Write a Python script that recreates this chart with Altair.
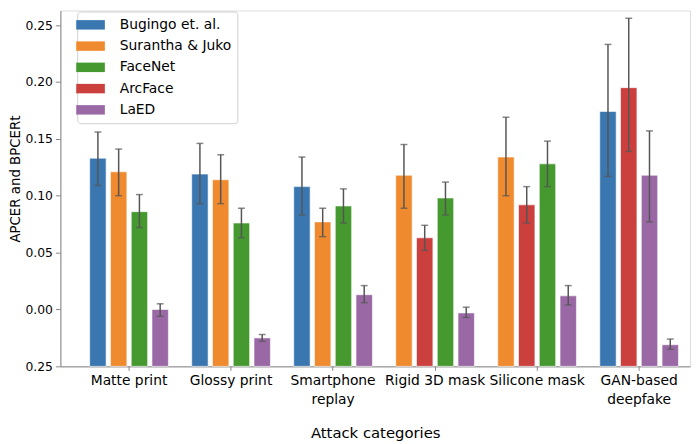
import altair as alt
import pandas as pd

categories = ["Matte print", "Glossy print", "Smartphone replay",
              "Rigid 3D mask", "Silicone mask", "GAN-based deepfake"]
series_order = ["Bugingo et. al.", "Surantha & Juko", "FaceNet", "ArcFace", "LaED"]
series_colors = ["#3a77b0", "#f08a2e", "#45992f", "#cb3f3d", "#9a69a5"]

bar_category = (["Matte print"] * 4 + ["Glossy print"] * 4 + ["Smartphone replay"] * 4 +
                ["Rigid 3D mask"] * 4 + ["Silicone mask"] * 4 + ["GAN-based deepfake"] * 4)
bar_slot = [0, 1, 2, 3] * 6
bar_series = [
    "Bugingo et. al.", "Surantha & Juko", "FaceNet", "LaED",
    "Bugingo et. al.", "Surantha & Juko", "FaceNet", "LaED",
    "Bugingo et. al.", "Surantha & Juko", "FaceNet", "LaED",
    "Surantha & Juko", "ArcFace", "FaceNet", "LaED",
    "Surantha & Juko", "ArcFace", "FaceNet", "LaED",
    "Bugingo et. al.", "ArcFace", "LaED", "LaED",
]
bar_value = [0.133, 0.121, 0.086, 0.000,
             0.119, 0.114, 0.076, -0.025,
             0.108, 0.077, 0.091, 0.013,
             0.118, 0.063, 0.098, -0.003,
             0.134, 0.092, 0.128, 0.012,
             0.174, 0.195, 0.118, -0.031]
err_low = [0.109, 0.100, 0.072, -0.006,
           0.093, 0.093, 0.063, -0.028,
           0.083, 0.064, 0.076, 0.006,
           0.089, 0.052, 0.083, -0.007,
           0.100, 0.076, 0.108, 0.004,
           0.117, 0.139, 0.077, -0.035]
err_high = [0.156, 0.141, 0.101, 0.005,
            0.146, 0.136, 0.089, -0.022,
            0.134, 0.089, 0.106, 0.021,
            0.145, 0.074, 0.112, 0.002,
            0.169, 0.108, 0.148, 0.021,
            0.233, 0.256, 0.157, -0.026]
y_tick_values = [-0.05, 0.0, 0.05, 0.10, 0.15, 0.20, 0.25]
y_bottom = -0.05
y_top = 0.2628

df = pd.DataFrame({
    "category": bar_category,
    "slot": bar_slot,
    "series": bar_series,
    "value": bar_value,
    "lo": err_low,
    "hi": err_high,
    "base": [y_bottom] * len(bar_value),
})

FONT = "DejaVu Sans"

x_enc = alt.X("category:N", sort=categories,
              scale=alt.Scale(paddingInner=0.186, paddingOuter=0.179, align=0.743),
              axis=alt.Axis(title="Attack categories", labelAngle=0, labelFontSize=14,
                            labelLineHeight=20, tickSize=4, labelPadding=3,
                            titleFontSize=15, titleFontWeight="normal", titlePadding=19,
                            labelExpr="datum.label == 'Smartphone replay' ? ['Smartphone', 'replay'] : "
                                      "datum.label == 'GAN-based deepfake' ? ['GAN-based', 'deepfake'] : datum.label"))
xo_enc = alt.XOffset("slot:O", scale=alt.Scale(paddingInner=0.21, paddingOuter=0.105))
y_scale = alt.Scale(domain=[y_bottom, y_top], nice=False, zero=False)

bars = alt.Chart(df).mark_bar(stroke="white", strokeWidth=0.6).encode(
    x=x_enc,
    xOffset=xo_enc,
    y=alt.Y("value:Q", scale=y_scale,
            axis=alt.Axis(title="APCER and BPCERt", values=y_tick_values, grid=False,
                          labelFontSize=12.5, tickSize=5, labelPadding=3,
                          titleFontSize=13.5, titleFontWeight="normal",
                          titleX=-45, titleY=170, titleAngle=-90, titleBaseline="middle",
                          labelExpr="datum.value < -0.04 ? '0.25' : format(datum.value, '.2f')")),
    y2="base:Q",
    color=alt.Color("series:N", scale=alt.Scale(domain=series_order, range=series_colors),
                    legend=alt.Legend(title=None, orient="none", legendX=17, legendY=1,
                                      labelFontSize=14, symbolType="M-2,-0.66L2,-0.66L2,0.66L-2,0.66Z",
                                      symbolSize=210, symbolStrokeWidth=0, labelOffset=22,
                                      rowPadding=6.5, padding=6, strokeColor="#d0d0d0",
                                      cornerRadius=3, fillColor="rgba(255,255,255,0.85)")),
)

rules = alt.Chart(df).mark_rule(color="#555555", strokeWidth=1.5).encode(
    x=x_enc, xOffset=xo_enc, y=alt.Y("lo:Q", scale=y_scale), y2="hi:Q")
cap_lo = alt.Chart(df).mark_tick(color="#555555", thickness=1.5, size=7).encode(
    x=x_enc, xOffset=xo_enc, y=alt.Y("lo:Q", scale=y_scale))
cap_hi = alt.Chart(df).mark_tick(color="#555555", thickness=1.5, size=7).encode(
    x=x_enc, xOffset=xo_enc, y=alt.Y("hi:Q", scale=y_scale))

chart = alt.layer(bars, rules, cap_lo, cap_hi).properties(
    width=637, height=360,
    autosize=alt.AutoSizeParams(type="none"),
    padding={"left": 53, "top": 0, "right": 2, "bottom": 76},
).configure_view(stroke="#333333", strokeWidth=1).configure_axis(
    domainColor="#333333", tickColor="#333333", labelColor="#222222", titleColor="#222222",
    labelFont=FONT, titleFont=FONT,
).configure_legend(labelFont=FONT, labelColor="#222222").configure(font=FONT)

chart.save("out.html", embed_options={"renderer": "svg", "actions": False})
